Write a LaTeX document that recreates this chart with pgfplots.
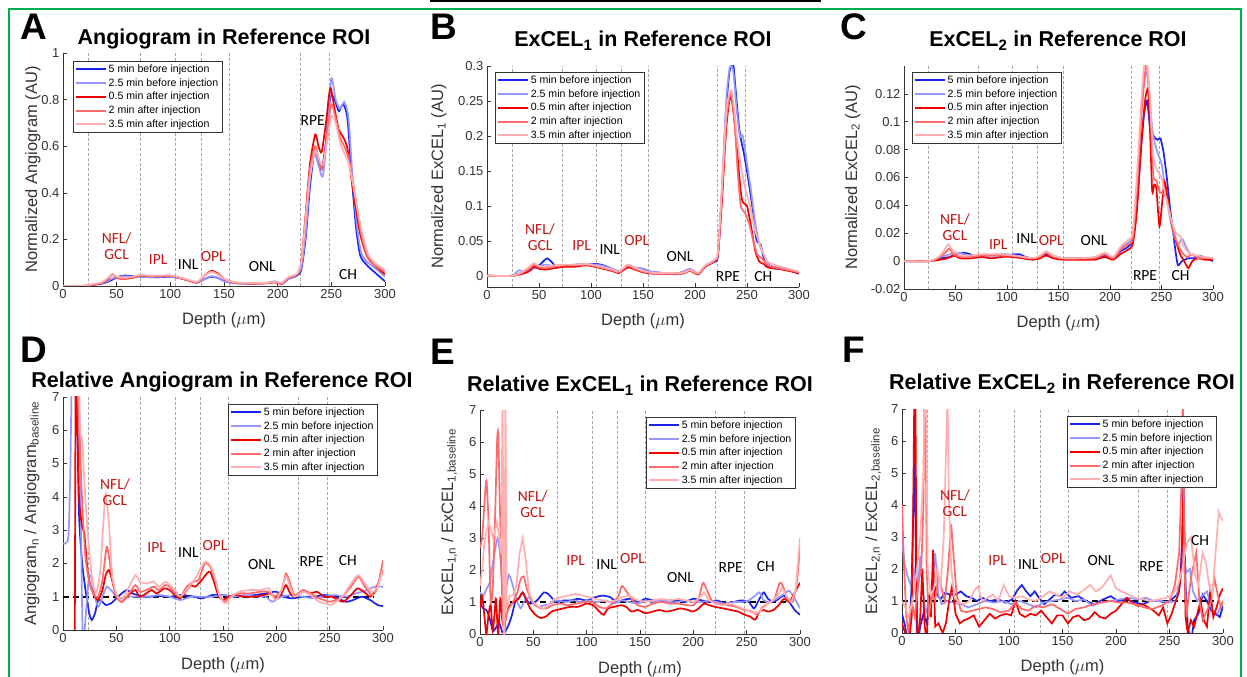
\documentclass[border=0pt]{standalone}
\usepackage{fontspec}
\setmainfont{Liberation Sans}
\newfontfamily\carlito{Carlito}
\usepackage{pgfplots}
\pgfplotsset{compat=1.18}

\definecolor{blueA}{RGB}{25,35,235}
\definecolor{blueB}{RGB}{150,150,255}
\definecolor{redA}{RGB}{240,0,0}
\definecolor{redB}{RGB}{255,105,105}
\definecolor{redC}{RGB}{255,175,175}
\definecolor{labred}{RGB}{195,20,20}
\definecolor{frame}{RGB}{0,176,80}

\newcommand\fttl{\fontsize{21.5}{24}\selectfont\bfseries}
\newcommand\flab{\fontsize{16.5}{19}\selectfont}
\newcommand\ftck{\fontsize{13}{15}\selectfont}
\newcommand\fleg{\fontsize{10.6}{12}\selectfont}
\newcommand\flyr{\carlito\fontsize{15.5}{16}\selectfont}
\newcommand\fpan{\fontsize{37}{40}\selectfont\bfseries}

\pgfplotsset{
  legend image code/.code={\draw[#1, line width=2pt, line cap=butt] (0pt,0pt) -- (30pt,0pt);},
  panel/.style={
    scale only axis,
    axis x line=bottom, axis y line=left,
    axis line style={black!80, line width=0.6pt, -},
    tick align=inside, major tick length=4pt,
    tick style={black!80, line width=0.5pt},
    xmin=0, xmax=300, xtick={0,50,...,300},
    ticklabel style={font=\ftck, text=black!80},
    /pgf/number format/assume math mode=true,
    scaled y ticks=false,
    yticklabel style={/pgf/number format/fixed, /pgf/number format/precision=2},
    xlabel={Depth ($\mu$m)},
    every axis x label/.style={at={([yshift=-39pt]rel axis cs:0.5,0)}, anchor=base, font=\flab, text=black!80},
    extra x ticks={24,72,105,129,155,221,248},
    extra x tick labels={},
    extra x tick style={major tick length=0pt, grid=major,
      major grid style={black!35, dash pattern=on 3pt off 2pt, line width=0.6pt}},
    legend cell align=left,
    legend style={font=\fleg, draw=black!80, anchor=north west,
      inner sep=1.5pt, row sep=0.6pt},
    every axis plot/.append style={line width=1.7pt, smooth, tension=0.4},
  },
  ylab/.style={every axis y label/.style={at={([xshift=-#1]rel axis cs:0,0.5)}, rotate=90, anchor=base, font=\flab, text=black!80}},
}
\newcommand\legs{\legend{5 min before injection,2.5 min before injection,0.5 min after injection,2 min after injection,3.5 min after injection}}
\newcommand\one{\addplot[black, line width=1.6pt, sharp plot, dash pattern=on 6pt off 4pt, forget plot] coordinates {(0,1) (292,1)};}

\begin{document}
\begin{tikzpicture}[x=1pt,y=1pt]
\path[use as bounding box] (0,0) rectangle (1247,677);

% ---------------- A
\begin{axis}[panel, ylab=26pt, at={(63pt,391pt)}, anchor=south west, width=322pt, height=233pt,
  ymin=0, ymax=1, ytick={0,0.2,...,1}, ylabel={Normalized Angiogram (AU)},
  legend style={at={(0.031,0.966)}}]
\addplot[blueA] coordinates {(0,0) (20,0) (28,0.005) (38,0.012) (45,0.025) (52,0.04) (58,0.045) (65,0.042) (72,0.04) (80,0.038) (90,0.038) (100,0.04) (108,0.035) (116,0.025) (125,0.015) (132,0.03) (138,0.04) (144,0.035) (150,0.022) (160,0.012) (175,0.01) (190,0.013) (197,0.018) (204,0.01) (210,0.03) (218,0.045) (222,0.07) (226,0.2) (230,0.42) (234,0.57) (237,0.56) (241,0.5) (245,0.62) (249,0.81) (253,0.8) (257,0.75) (261,0.78) (265,0.72) (269,0.47) (273,0.25) (277,0.13) (283,0.09) (290,0.06) (300,0.02)};
\addplot[blueB] coordinates {(0,0) (20,0) (28,0.006) (38,0.014) (45,0.03) (52,0.04) (58,0.042) (65,0.04) (72,0.04) (80,0.038) (90,0.04) (100,0.04) (108,0.035) (116,0.025) (125,0.015) (132,0.03) (138,0.042) (144,0.036) (150,0.02) (160,0.012) (175,0.01) (190,0.012) (197,0.02) (204,0.012) (210,0.03) (218,0.05) (222,0.08) (226,0.22) (230,0.45) (234,0.57) (238,0.52) (242,0.47) (246,0.65) (250,0.89) (254,0.8) (258,0.76) (262,0.79) (266,0.72) (270,0.45) (274,0.25) (278,0.14) (284,0.1) (290,0.08) (300,0.04)};
\addplot[redA] coordinates {(0,0) (20,0) (28,0.005) (36,0.012) (42,0.03) (46,0.05) (50,0.035) (56,0.03) (65,0.035) (72,0.045) (80,0.042) (90,0.042) (100,0.044) (108,0.035) (116,0.025) (125,0.015) (132,0.045) (138,0.065) (144,0.055) (150,0.03) (160,0.015) (175,0.01) (190,0.012) (197,0.015) (204,0.01) (210,0.035) (218,0.05) (222,0.1) (226,0.3) (230,0.52) (235,0.65) (238,0.6) (241,0.575) (245,0.7) (249,0.85) (253,0.76) (257,0.67) (261,0.64) (265,0.59) (269,0.45) (273,0.33) (277,0.22) (283,0.13) (290,0.09) (300,0.05)};
\addplot[redB] coordinates {(0,0) (20,0) (28,0.006) (36,0.014) (42,0.032) (46,0.05) (50,0.036) (56,0.03) (65,0.036) (72,0.045) (80,0.043) (90,0.043) (100,0.044) (108,0.036) (116,0.025) (125,0.016) (132,0.045) (138,0.062) (144,0.052) (150,0.03) (160,0.015) (175,0.01) (190,0.012) (197,0.016) (204,0.012) (210,0.035) (218,0.05) (222,0.1) (226,0.3) (230,0.5) (235,0.6) (238,0.55) (242,0.5) (246,0.65) (250,0.78) (254,0.72) (258,0.64) (262,0.6) (266,0.55) (270,0.45) (274,0.33) (278,0.22) (284,0.12) (290,0.09) (300,0.06)};
\addplot[redC] coordinates {(0,0) (20,0.002) (28,0.008) (36,0.015) (42,0.035) (46,0.05) (50,0.04) (56,0.035) (65,0.04) (72,0.048) (80,0.045) (90,0.045) (100,0.046) (108,0.038) (116,0.028) (125,0.018) (132,0.045) (138,0.06) (144,0.05) (150,0.03) (160,0.016) (175,0.012) (190,0.014) (197,0.017) (204,0.014) (210,0.038) (218,0.052) (222,0.1) (226,0.28) (230,0.47) (235,0.58) (238,0.55) (242,0.52) (246,0.62) (250,0.73) (254,0.7) (258,0.62) (262,0.57) (266,0.53) (270,0.44) (274,0.34) (278,0.24) (284,0.14) (290,0.1) (300,0.07)};
\legs
\node[font=\flyr, text=labred, align=center] at (axis cs:50,0.17) {NFL/\\GCL};
\node[font=\flyr, text=labred] at (axis cs:88.6,0.115) {IPL};
\node[font=\flyr] at (axis cs:116.6,0.094) {INL};
\node[font=\flyr, text=labred] at (axis cs:140,0.125) {OPL};
\node[font=\flyr] at (axis cs:185.6,0.083) {ONL};
\node[font=\flyr] at (axis cs:232.6,0.71) {RPE};
\node[font=\flyr] at (axis cs:265.6,0.05) {CH};
\end{axis}

% ---------------- B
\begin{axis}[panel, ylab=44pt, at={(487pt,390pt)}, anchor=south west, width=312pt, height=221pt,
  ymin=-0.016, ymax=0.3, ytick={0,0.05,...,0.3}, ylabel={Normalized ExCEL\textsubscript{1} (AU)},
  legend style={at={(0.026,0.973)}}]
\addplot[blueA] coordinates {(0,0) (24,0) (30,0.003) (38,0.005) (45,0.012) (50,0.015) (55,0.022) (58,0.025) (62,0.02) (67,0.013) (75,0.014) (85,0.016) (95,0.016) (105,0.017) (112,0.015) (120,0.01) (127,0.006) (135,0.012) (142,0.011) (150,0.01) (157,0.006) (170,0.004) (185,0.004) (195,0.009) (203,0.003) (210,0.014) (218,0.02) (222,0.028) (226,0.12) (230,0.24) (233,0.29) (235,0.3) (237,0.3) (240,0.25) (243,0.205) (247,0.175) (251,0.14) (255,0.1) (259,0.052) (263,0.045) (267,0.02) (272,0.012) (280,0.01) (290,0.008) (300,0.003)};
\addplot[blueB] coordinates {(0,0) (24,0) (28,0.005) (31,0.008) (35,0.006) (42,0.008) (48,0.012) (55,0.016) (60,0.015) (68,0.014) (78,0.015) (88,0.016) (98,0.016) (105,0.016) (112,0.014) (120,0.01) (127,0.007) (135,0.013) (142,0.012) (150,0.01) (157,0.006) (170,0.004) (185,0.004) (195,0.01) (203,0.004) (210,0.015) (218,0.022) (222,0.03) (226,0.13) (230,0.25) (233,0.295) (235,0.3) (237,0.29) (240,0.24) (243,0.2) (246,0.2) (250,0.16) (254,0.12) (258,0.075) (262,0.045) (266,0.03) (272,0.015) (280,0.012) (290,0.009) (300,0.005)};
\addplot[redA] coordinates {(0,0) (24,0) (32,0.002) (40,0.006) (45,0.013) (50,0.01) (56,0.009) (65,0.011) (75,0.013) (85,0.013) (95,0.015) (103,0.013) (112,0.01) (120,0.007) (127,0.004) (135,0.012) (142,0.009) (150,0.005) (160,0.003) (175,0.003) (188,0.003) (195,0.007) (203,0.002) (210,0.013) (218,0.02) (222,0.03) (226,0.11) (230,0.21) (233,0.25) (235,0.254) (238,0.22) (241,0.17) (244,0.12) (246,0.105) (250,0.1) (254,0.07) (258,0.035) (262,0.02) (266,0.017) (270,0.012) (280,0.01) (290,0.007) (300,0.004)};
\addplot[redB] coordinates {(0,0) (24,0) (32,0.003) (40,0.01) (45,0.016) (50,0.012) (56,0.011) (65,0.013) (75,0.015) (85,0.015) (95,0.016) (103,0.014) (112,0.011) (120,0.008) (127,0.005) (135,0.014) (142,0.01) (150,0.006) (160,0.004) (175,0.004) (188,0.004) (195,0.008) (203,0.003) (210,0.014) (218,0.021) (222,0.032) (226,0.12) (230,0.22) (233,0.255) (235,0.26) (238,0.22) (241,0.15) (244,0.1) (248,0.09) (252,0.075) (256,0.05) (260,0.03) (265,0.024) (270,0.015) (280,0.011) (290,0.008) (300,0.005)};
\addplot[redC] coordinates {(0,0) (24,0) (32,0.004) (40,0.012) (45,0.018) (50,0.014) (56,0.013) (65,0.015) (75,0.016) (85,0.016) (95,0.017) (103,0.015) (112,0.012) (120,0.009) (127,0.006) (135,0.016) (142,0.012) (150,0.007) (160,0.004) (175,0.004) (188,0.004) (195,0.008) (203,0.004) (210,0.015) (218,0.022) (222,0.034) (226,0.13) (230,0.235) (233,0.26) (235,0.265) (238,0.235) (241,0.19) (245,0.15) (249,0.12) (253,0.1) (257,0.07) (261,0.05) (265,0.035) (270,0.02) (280,0.014) (290,0.01) (300,0.006)};
\legs
\node[font=\flyr, text=labred, align=center] at (axis cs:51,0.055) {NFL/\\GCL};
\node[font=\flyr, text=labred] at (axis cs:91,0.044) {IPL};
\node[font=\flyr] at (axis cs:118,0.038) {INL};
\node[font=\flyr, text=labred] at (axis cs:144,0.05) {OPL};
\node[font=\flyr] at (axis cs:185.6,0.028) {ONL};
\node[font=\flyr] at (axis cs:231.7,-0.001) {RPE};
\node[font=\flyr] at (axis cs:265.6,-0.001) {CH};
\end{axis}

% ---------------- C
\begin{axis}[panel, ylab=47pt, at={(904pt,388pt)}, anchor=south west, width=309pt, height=223pt,
  ymin=-0.02, ymax=0.14, ytick={-0.02,0,0.02,...,0.14}, ylabel={Normalized ExCEL\textsubscript{2} (AU)},
  legend style={at={(0.026,0.973)}}]
\addplot[blueA] coordinates {(0,0) (25,0) (35,0.002) (45,0.003) (52,0.005) (58,0.006) (64,0.005) (70,0.003) (80,0.004) (90,0.004) (100,0.004) (108,0.005) (112,0.005) (118,0.003) (125,0.002) (132,0.003) (138,0.005) (145,0.003) (155,0.002) (170,0.002) (185,0.002) (195,0.004) (203,0.002) (210,0.007) (217,0.01) (222,0.015) (226,0.04) (230,0.08) (233,0.105) (236,0.115) (239,0.095) (242,0.09) (246,0.087) (249,0.088) (252,0.078) (255,0.061) (258,0.04) (261,0.022) (264,0.005) (266,-0.003) (270,0.0) (276,0.002) (282,0.002) (287,0.004) (293,0.002) (300,0.0)};
\addplot[blueB] coordinates {(0,0) (25,0) (35,0.003) (45,0.005) (52,0.006) (58,0.005) (64,0.004) (70,0.004) (80,0.004) (90,0.005) (100,0.005) (108,0.004) (115,0.003) (125,0.002) (132,0.003) (138,0.006) (145,0.004) (155,0.002) (170,0.002) (185,0.002) (195,0.005) (203,0.002) (210,0.009) (217,0.013) (222,0.018) (226,0.05) (230,0.1) (233,0.128) (236,0.135) (239,0.11) (242,0.09) (246,0.078) (250,0.07) (254,0.05) (258,0.032) (262,0.018) (266,0.012) (270,0.016) (274,0.01) (278,0.005) (285,0.003) (292,0.002) (300,0.001)};
\addplot[redA] coordinates {(0,0) (25,0) (35,0.001) (42,0.002) (48,0.004) (55,0.002) (65,0.002) (75,0.003) (85,0.002) (95,0.003) (105,0.003) (115,0.002) (125,0.001) (132,0.002) (138,0.004) (145,0.002) (155,0.001) (170,0.001) (185,0.001) (195,0.003) (203,0.001) (210,0.005) (217,0.008) (222,0.012) (226,0.035) (230,0.08) (234,0.115) (237,0.123) (239,0.09) (241,0.05) (243,0.055) (245,0.052) (248,0.025) (251,0.045) (253,0.057) (256,0.045) (259,0.03) (262,0.02) (265,0.012) (268,0.005) (272,0.0) (276,-0.005) (280,0.0) (285,0.002) (292,0.001) (300,0.001)};
\addplot[redB] coordinates {(0,0) (25,0) (35,0.003) (40,0.006) (44,0.009) (48,0.005) (55,0.003) (65,0.003) (75,0.004) (85,0.004) (95,0.004) (105,0.004) (115,0.003) (125,0.002) (132,0.003) (138,0.006) (145,0.003) (155,0.002) (170,0.002) (185,0.002) (195,0.005) (203,0.002) (210,0.008) (217,0.012) (222,0.016) (226,0.05) (230,0.1) (234,0.135) (236,0.14) (239,0.11) (242,0.062) (245,0.058) (248,0.05) (252,0.048) (255,0.045) (258,0.035) (262,0.02) (266,0.012) (270,0.006) (275,0.003) (280,0.005) (286,0.002) (292,0.002) (300,0.002)};
\addplot[redC] coordinates {(0,0) (25,0) (35,0.004) (40,0.009) (43,0.012) (47,0.008) (55,0.004) (65,0.004) (75,0.005) (85,0.005) (95,0.005) (105,0.004) (115,0.003) (125,0.002) (132,0.004) (138,0.007) (145,0.004) (155,0.002) (170,0.002) (185,0.003) (195,0.006) (203,0.003) (210,0.01) (217,0.015) (222,0.02) (226,0.06) (230,0.11) (233,0.14) (236,0.14) (239,0.115) (242,0.075) (246,0.065) (250,0.06) (253,0.05) (256,0.04) (260,0.028) (264,0.02) (268,0.018) (272,0.01) (278,0.005) (285,0.004) (292,0.003) (300,0.002)};
\legs
\node[font=\flyr, text=labred, align=center] at (axis cs:49.5,0.0245) {NFL/\\GCL};
\node[font=\flyr, text=labred] at (axis cs:91.5,0.012) {IPL};
\node[font=\flyr] at (axis cs:119,0.016) {INL};
\node[font=\flyr, text=labred] at (axis cs:143,0.0145) {OPL};
\node[font=\flyr] at (axis cs:184.5,0.015) {ONL};
\node[font=\flyr] at (axis cs:234,-0.0105) {RPE};
\node[font=\flyr] at (axis cs:268.6,-0.01) {CH};
\end{axis}

% ---------------- D
\begin{axis}[panel, ylab=27pt, at={(63pt,47pt)}, anchor=south west, width=320pt, height=233pt,
  ymin=0, ymax=7, ytick={0,1,...,7}, ylabel={Angiogram\textsubscript{n} / Angiogram\textsubscript{baseline}},
  legend style={at={(0.516,0.97)}}]
\one
\addplot[blueA] coordinates {(12,9) (13,7) (15,3.5) (18,2) (22,1) (25,0.45) (27,0.3) (30,0.5) (33,0.9) (37,0.85) (40,0.75) (45,0.8) (50,0.95) (55,1.1) (60,1.2) (65,1.1) (70,1.05) (80,1.0) (90,1.02) (100,1.0) (110,1.05) (120,1.02) (130,0.95) (140,1.05) (150,1.05) (160,1.0) (170,1.02) (180,1.05) (190,1.1) (200,1.15) (207,1.0) (215,0.95) (225,1.0) (235,1.0) (245,1.05) (255,1.0) (265,0.85) (272,0.9) (280,1.0) (288,0.9) (295,0.75) (300,0.72)};
\addplot[blueB] coordinates {(0,2.6) (5,2.8) (7,5) (9,9) (14,9) (16,5) (18,0.5) (19,-0.5) (21,0.3) (24,1.5) (26,1.65) (29,1.1) (33,0.7) (37,1.0) (41,1.3) (45,1.2) (50,1.0) (55,0.95) (60,1.0) (70,1.0) (80,1.0) (90,1.05) (100,1.0) (110,0.9) (120,1.0) (130,1.0) (140,1.0) (150,1.05) (160,1.0) (170,1.05) (180,1.0) (190,1.0) (196,0.85) (205,1.0) (215,1.05) (225,1.0) (235,0.95) (245,1.0) (255,1.05) (265,1.0) (275,1.1) (285,1.2) (292,1.3) (300,1.3)};
\addplot[redA] coordinates {(11,-1) (12,9) (13,7) (15,4) (18,3.1) (20,2.9) (23,1.8) (26,1.3) (30,1.0) (33,0.9) (37,1.2) (40,1.65) (43,1.8) (46,1.5) (50,1.0) (55,0.85) (60,1.0) (65,1.15) (68,1.2) (72,1.0) (78,1.1) (83,1.2) (88,1.1) (95,1.25) (100,1.2) (105,1.05) (110,0.95) (116,1.2) (120,1.35) (124,1.3) (130,1.5) (135,1.7) (138,1.75) (142,1.4) (146,1.0) (150,0.9) (155,1.0) (162,1.05) (170,1.0) (180,1.0) (188,1.05) (195,1.1) (200,0.95) (205,1.1) (209,1.35) (213,1.1) (217,1.0) (225,1.15) (232,1.1) (238,1.15) (245,1.0) (252,1.0) (258,0.9) (263,0.85) (270,1.05) (276,1.25) (282,1.15) (288,1.0) (293,1.2) (300,1.8)};
\addplot[redB] coordinates {(13,9) (14,7) (16,5.5) (18,3.8) (21,2.2) (25,1.4) (29,1.05) (33,1.0) (37,1.5) (41,2.5) (44,2.0) (48,1.2) (52,0.9) (56,0.85) (62,1.1) (68,1.35) (72,1.15) (78,1.2) (85,1.3) (90,1.2) (96,1.35) (100,1.3) (105,1.1) (110,1.0) (116,1.3) (122,1.45) (127,1.5) (133,2.0) (138,1.9) (142,1.6) (146,1.1) (151,0.85) (157,1.0) (165,1.1) (175,1.1) (185,1.15) (192,1.15) (198,1.0) (205,1.2) (209,1.7) (213,1.4) (217,1.05) (225,1.2) (232,1.1) (240,0.95) (245,0.9) (250,0.85) (256,0.9) (262,1.0) (270,1.3) (277,1.6) (283,1.3) (290,1.05) (295,1.3) (300,2.1)};
\addplot[redC] coordinates {(14,9) (16,6.1) (18,5.7) (20,4.5) (23,3.0) (27,1.6) (31,1.1) (35,1.8) (38,3.3) (40,4.1) (43,3.2) (46,1.7) (50,1.1) (55,0.9) (62,1.3) (68,1.65) (72,1.45) (78,1.4) (85,1.45) (90,1.3) (96,1.45) (100,1.35) (105,1.2) (110,1.0) (118,1.3) (125,1.6) (133,2.05) (139,1.9) (143,1.5) (147,1.0) (152,0.8) (158,1.0) (165,1.15) (175,1.2) (185,1.2) (193,1.25) (199,0.9) (205,1.2) (209,1.6) (213,1.3) (217,1.0) (225,1.15) (232,1.05) (240,0.85) (246,0.8) (251,0.75) (256,0.85) (262,1.0) (270,1.4) (277,1.65) (283,1.4) (290,1.15) (295,1.3) (300,1.85)};
\legs
\node[font=\flyr, text=labred, align=center] at (axis cs:48.7,4.13) {NFL/\\GCL};
\node[font=\flyr, text=labred] at (axis cs:87.8,2.48) {IPL};
\node[font=\flyr] at (axis cs:117.5,2.32) {INL};
\node[font=\flyr, text=labred] at (axis cs:142.5,2.55) {OPL};
\node[font=\flyr] at (axis cs:186,1.97) {ONL};
\node[font=\flyr] at (axis cs:233,2.05) {RPE};
\node[font=\flyr] at (axis cs:267,2.1) {CH};
\end{axis}

% ---------------- E
\begin{axis}[panel, ylab=27pt, at={(480pt,43pt)}, anchor=south west, width=320pt, height=224pt,
  ymin=0, ymax=7, ytick={0,1,...,7}, ylabel={ExCEL\textsubscript{1,n} / ExCEL\textsubscript{1,baseline}},
  legend style={at={(0.519,0.969)}}]
\one
\addplot[blueA] coordinates {(0,1.0) (3,0.8) (6,0.75) (9,0.5) (12,0.1) (15,0.2) (18,0.35) (21,0.05) (24,0.1) (27,0.3) (30,0.6) (33,1.0) (37,1.15) (40,1.3) (43,1.1) (47,0.95) (52,1.0) (56,1.15) (60,1.3) (64,1.25) (68,1.1) (72,1.0) (78,1.05) (85,1.05) (92,1.1) (100,1.05) (108,1.15) (115,1.2) (122,1.15) (128,1.0) (133,1.05) (140,1.1) (148,1.0) (155,1.1) (162,1.05) (170,1.0) (178,1.05) (185,1.05) (192,1.0) (200,1.1) (208,1.05) (215,1.0) (222,1.05) (230,0.95) (238,1.0) (245,1.05) (252,1.0) (257,0.8) (262,1.1) (266,1.3) (270,1.1) (275,1.0) (280,1.1) (285,1.2) (290,1.0) (295,0.75) (300,0.6)};
\addplot[blueB] coordinates {(0,1.3) (3,1.2) (6,1.4) (9,1.6) (12,2.2) (15,2.8) (17,3.0) (19,2.4) (22,1.2) (25,1.5) (27,1.85) (30,1.6) (34,1.1) (38,0.8) (42,1.05) (46,1.15) (50,0.95) (55,0.85) (60,0.9) (66,0.95) (72,1.05) (80,1.0) (88,1.05) (95,1.0) (102,1.05) (110,1.0) (118,1.05) (125,0.95) (133,1.05) (140,1.0) (148,0.95) (155,1.05) (162,1.0) (170,1.05) (178,1.0) (185,1.0) (192,1.05) (200,1.0) (208,1.0) (215,1.05) (222,1.0) (230,0.95) (238,1.0) (245,1.0) (252,1.05) (258,1.2) (262,1.3) (266,1.05) (272,1.0) (278,1.1) (285,1.25) (290,1.35) (295,1.1) (300,0.8)};
\addplot[redA] coordinates {(0,0.8) (2,1.2) (4,0.6) (6,0.0) (8,0.6) (10,0.9) (12,0.1) (14,0.8) (15,1.1) (17,0.0) (19,1.1) (21,0.4) (23,0.2) (25,0.7) (28,0.9) (32,1.0) (36,1.1) (40,1.3) (43,1.1) (47,0.8) (52,0.6) (57,0.5) (62,0.55) (67,0.7) (72,0.75) (78,0.8) (85,0.85) (92,0.85) (100,0.95) (106,0.9) (112,0.7) (116,0.6) (120,0.8) (126,0.85) (132,0.9) (137,0.85) (142,0.7) (148,0.75) (155,0.65) (162,0.7) (168,0.75) (175,0.7) (182,0.75) (188,0.8) (195,0.75) (200,0.7) (205,0.8) (210,0.95) (215,0.9) (220,0.85) (228,0.8) (235,0.75) (242,0.7) (248,0.6) (253,0.55) (258,0.45) (262,0.7) (266,0.75) (270,0.7) (275,0.75) (280,0.9) (285,1.1) (290,1.0) (295,1.3) (300,1.6)};
\addplot[redB] coordinates {(0,2.7) (2,3.0) (4,4.0) (6,4.8) (8,3.5) (10,1.0) (12,1.5) (14,3.5) (16,6.0) (17,6.3) (18,5.0) (20,2.0) (22,0.2) (24,0.5) (27,0.8) (31,1.0) (35,1.3) (38,1.7) (41,1.8) (44,1.4) (48,1.1) (52,0.9) (57,0.8) (62,0.8) (68,0.9) (75,0.95) (82,0.9) (90,0.95) (98,1.0) (105,1.0) (112,0.85) (118,0.8) (124,0.95) (130,1.2) (133,1.5) (137,1.35) (142,1.1) (148,0.9) (155,0.85) (162,0.95) (170,1.0) (178,0.95) (186,0.95) (194,0.9) (200,0.9) (205,1.1) (209,1.6) (213,1.35) (218,1.0) (225,0.95) (232,0.9) (240,0.85) (248,0.75) (255,0.7) (260,0.6) (265,0.85) (270,0.95) (276,1.1) (281,1.6) (284,1.5) (288,1.1) (293,1.0) (297,1.6) (300,2.7)};
\addplot[redC, sharp plot] coordinates {(0,1.5) (2,2.0) (4,2.8) (6,3.2) (8,3.5) (10,3.3) (12,3.0) (14,3.2) (16,3.5) (18,3.0) (20,2.5) (21.2,8) (22,0.5) (23,-0.3) (23.8,8) (25,0.8) (28,1.2) (31,1.2) (34,1.5) (37,2.5) (40,3.0) (43,2.3) (46,1.3) (50,1.0) (55,0.85) (60,0.8) (65,0.95) (70,1.1) (76,1.15) (82,1.2) (90,1.25) (96,1.2) (102,1.15) (108,1.1) (115,1.05) (122,1.0) (128,1.05) (133,1.15) (140,1.2) (148,1.05) (155,1.0) (162,1.05) (170,1.1) (178,1.05) (186,1.1) (193,1.05) (200,1.0) (205,1.1) (210,1.3) (215,1.05) (220,0.95) (228,0.9) (235,0.95) (242,0.85) (250,0.75) (256,0.65) (262,0.7) (268,0.9) (274,1.05) (279,1.2) (283,1.45) (287,1.2) (292,1.0) (296,1.4) (300,3.0)};
\legs
\node[font=\flyr, text=labred, align=center] at (axis cs:49.4,4.06) {NFL/\\GCL};
\node[font=\flyr, text=labred] at (axis cs:89.7,2.31) {IPL};
\node[font=\flyr] at (axis cs:118.7,2.16) {INL};
\node[font=\flyr, text=labred] at (axis cs:143,2.35) {OPL};
\node[font=\flyr] at (axis cs:188,1.77) {ONL};
\node[font=\flyr] at (axis cs:235,2.07) {RPE};
\node[font=\flyr] at (axis cs:268,2.1) {CH};
\end{axis}

% ---------------- F
\begin{axis}[panel, ylab=25pt, at={(902pt,44pt)}, anchor=south west, width=321pt, height=224pt,
  ymin=0, ymax=7, ytick={0,1,...,7}, ylabel={ExCEL\textsubscript{2,n} / ExCEL\textsubscript{2,baseline}},
  legend style={at={(0.514,0.969)}}, every axis plot/.append style={sharp plot}]
\one
\addplot[blueA] coordinates {(0,0.6) (3,0.2) (6,-0.5) (9,1.5) (11,4.5) (12,5.3) (13,2.0) (14,-0.5) (17,0.2) (20,0.6) (23,0.3) (26,1.0) (30,1.5) (33,1.2) (36,1.05) (40,1.25) (45,1.2) (50,1.2) (55,1.3) (60,1.15) (65,1.1) (70,1.0) (75,1.1) (82,1.0) (90,1.05) (97,0.95) (103,1.05) (108,1.35) (112,1.5) (116,1.3) (120,1.15) (124,1.3) (128,1.1) (133,0.9) (138,1.05) (143,1.2) (148,1.15) (152,1.3) (158,1.1) (165,1.15) (172,1.0) (180,0.9) (188,1.05) (195,1.15) (202,1.0) (210,1.05) (218,0.95) (225,0.9) (232,1.0) (240,1.0) (246,0.95) (252,1.05) (257,1.2) (260,1.6) (262,3.0) (263,4.6) (265,1.5) (267,0.2) (270,-0.3) (273,0.4) (277,0.6) (281,1.2) (285,1.0) (289,0.7) (293,0.6) (297,0.5) (300,0.85)};
\addplot[blueB] coordinates {(0,3.0) (2,2.2) (5,1.8) (8,1.5) (11,2.0) (14,1.0) (17,2.4) (19,1.5) (22,0.6) (25,1.0) (28,1.5) (31,2.5) (34,1.2) (37,0.9) (42,1.0) (48,0.95) (55,0.9) (62,0.8) (70,0.9) (78,1.0) (86,0.95) (95,1.0) (102,0.9) (110,1.0) (118,0.9) (125,0.8) (132,0.95) (140,1.0) (148,1.05) (155,1.1) (162,1.0) (170,1.05) (178,0.85) (186,0.95) (195,1.0) (203,1.05) (212,1.1) (220,1.05) (228,1.1) (235,1.0) (242,1.0) (250,0.95) (256,1.0) (260,1.7) (263,2.3) (266,1.9) (269,2.0) (272,1.3) (276,1.0) (280,1.15) (285,1.3) (290,0.7) (295,0.6) (300,1.0)};
\addplot[redA] coordinates {(0,0.3) (3,0.0) (6,-0.5) (9,0.5) (10.5,4) (11.5,7.5) (12.5,7.5) (13.5,2) (14.5,-0.5) (17,0.5) (19,2.0) (21,0.3) (23,-0.3) (25,1.2) (27,0.5) (29,2.6) (31,0.2) (34,0.3) (38,0.0) (41,0.3) (44,1.0) (47,1.5) (50,0.6) (54,0.3) (58,0.4) (62,0.45) (67,0.55) (72,0.2) (77,0.4) (82,0.6) (87,0.45) (92,0.55) (97,0.6) (102,0.55) (106,1.0) (110,0.6) (115,0.5) (120,0.6) (125,0.55) (130,0.7) (135,0.5) (140,0.3) (145,0.55) (150,0.55) (155,0.3) (160,0.5) (165,0.55) (170,0.4) (175,0.45) (180,0.65) (185,0.5) (190,0.45) (195,0.6) (200,0.7) (205,0.9) (210,1.1) (215,0.95) (220,0.85) (225,0.9) (230,0.8) (235,0.7) (240,0.55) (244,0.8) (248,0.3) (252,0.6) (256,1.0) (259,1.3) (261,2.0) (263,4.5) (265,0.5) (267,0.0) (270,0.4) (273,0.2) (276,0.6) (279,1.0) (282,0.4) (285,0.2) (288,1.3) (291,0.5) (294,0.8) (297,1.2) (300,1.4)};
\addplot[redB] coordinates {(0,4.0) (2,2.0) (4,0.5) (6,0.0) (9,1.0) (12,0.5) (15,1.5) (18,2.0) (20,4.0) (21,7.5) (22,7.5) (23,2.0) (25,0.5) (28,1.2) (31,1.0) (34,1.8) (37,1.4) (40,1.0) (43,2.0) (46,3.4) (48,2.5) (51,1.2) (55,0.7) (60,0.65) (66,0.7) (72,0.75) (78,0.8) (85,0.75) (92,0.65) (100,0.7) (106,0.95) (112,0.75) (118,0.7) (125,0.85) (132,0.8) (140,0.9) (148,0.75) (155,0.6) (162,0.75) (170,0.8) (178,0.9) (186,0.95) (195,1.0) (203,0.95) (210,0.95) (218,0.9) (226,0.8) (234,0.75) (242,0.85) (250,1.0) (255,1.5) (259,2.5) (261,4.5) (262.5,7.5) (264,2.0) (266,0.5) (268,1.2) (271,1.9) (275,2.5) (278,1.0) (281,0.4) (285,0.7) (289,1.0) (292,1.7) (295,1.2) (298,0.8) (300,1.0)};
\addplot[redC] coordinates {(0,1.0) (3,0.8) (6,0.5) (10,1.0) (14,2.0) (17,3.0) (20,5.0) (21,7.5) (22.5,7.5) (24,2.0) (27,1.2) (30,1.4) (33,2.0) (36,1.4) (39,3.0) (41,5.5) (42.5,7.5) (44,4.0) (46,2.0) (49,1.1) (53,0.95) (58,0.9) (63,1.0) (68,1.35) (71,1.45) (75,1.0) (80,1.1) (85,1.2) (90,1.0) (95,1.5) (100,1.15) (106,1.1) (112,1.15) (118,1.05) (125,1.0) (132,1.15) (138,1.3) (144,1.2) (150,1.1) (157,1.3) (164,1.2) (170,1.35) (176,1.5) (181,1.3) (186,1.4) (191,1.6) (195,1.8) (200,1.4) (205,1.3) (212,1.2) (218,1.1) (225,1.05) (232,1.0) (240,1.05) (247,1.1) (253,1.2) (258,1.5) (262,2.0) (266,2.8) (270,3.0) (274,1.8) (277,1.5) (281,2.5) (284,2.2) (287,1.5) (290,1.2) (293,2.5) (296,3.8) (298,3.6) (300,3.5)};
\legs
\node[font=\flyr, text=labred, align=center] at (axis cs:49.5,4.05) {NFL/\\GCL};
\node[font=\flyr, text=labred] at (axis cs:89.4,2.28) {IPL};
\node[font=\flyr] at (axis cs:118,2.15) {INL};
\node[font=\flyr, text=labred] at (axis cs:141.4,2.34) {OPL};
\node[font=\flyr] at (axis cs:186,2.26) {ONL};
\node[font=\flyr] at (axis cs:233,2.07) {RPE};
\node[font=\flyr] at (axis cs:278.5,2.9) {CH};
\end{axis}

% titles and panel letters
\node[font=\fttl, anchor=base] at (224,632) {Angiogram in Reference ROI};
\node[font=\fttl, anchor=base] at (643,630) {ExCEL\textsubscript{1} in Reference ROI};
\node[font=\fttl, anchor=base] at (1058,630) {ExCEL\textsubscript{2} in Reference ROI};
\node[font=\fttl, anchor=base] at (222,289) {Relative Angiogram in Reference ROI};
\node[font=\fttl, anchor=base] at (640,285) {Relative ExCEL\textsubscript{1} in Reference ROI};
\node[font=\fttl, anchor=base] at (1062,287) {Relative ExCEL\textsubscript{2} in Reference ROI};
\node[font=\fpan, anchor=base west, inner sep=0pt] at (20,637) {A};
\node[font=\fpan, anchor=base west, inner sep=0pt] at (430,637) {B};
\node[font=\fpan, anchor=base west, inner sep=0pt] at (840,637) {C};
\node[font=\fpan, anchor=base west, inner sep=0pt] at (20,314) {D};
\node[font=\fpan, anchor=base west, inner sep=0pt] at (430,312) {E};
\node[font=\fpan, anchor=base west, inner sep=0pt] at (842,314) {F};

% frame
\draw[frame, line width=2pt] (9,0) -- (9,668) -- (1241,668) -- (1241,0);
\draw[black, line width=2pt] (430,676) -- (821,676);
\end{tikzpicture}
\end{document}
